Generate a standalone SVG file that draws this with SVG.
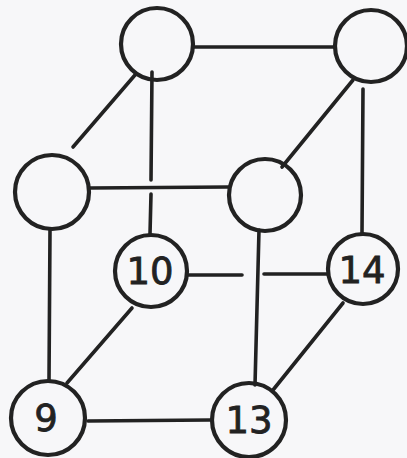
<svg xmlns="http://www.w3.org/2000/svg" width="407" height="458" viewBox="0 0 407 458">
<style>
.n{fill:none;stroke:#222;stroke-width:4.2}
.e{stroke:#222;stroke-width:3.6;stroke-linecap:round;fill:none}
.t{font-family:"DejaVu Sans","Liberation Sans",sans-serif;font-size:37px;fill:#222;stroke:#222;stroke-width:0.8;text-anchor:middle}
</style>
<rect width="407" height="458" fill="#f7f7f9"/>
<g id="connectors">
<line class="e" x1="193" y1="47" x2="335" y2="47"/>
<line class="e" x1="135" y1="75" x2="73" y2="147"/>
<line class="e" x1="152" y1="72" x2="151" y2="180"/>
<line class="e" x1="151" y1="194" x2="150" y2="234"/>
<line class="e" x1="90" y1="188" x2="228" y2="187"/>
<line class="e" x1="353" y1="80" x2="282" y2="167"/>
<line class="e" x1="363" y1="89" x2="362" y2="233"/>
<line class="e" x1="50" y1="230" x2="49" y2="381"/>
<line class="e" x1="259" y1="230" x2="255" y2="385"/>
<line class="e" x1="188" y1="275" x2="242" y2="275"/>
<line class="e" x1="264" y1="274" x2="327" y2="274"/>
<line class="e" x1="132" y1="308" x2="67" y2="383"/>
<line class="e" x1="343" y1="303" x2="273" y2="390"/>
<line class="e" x1="88" y1="421" x2="210" y2="420"/>
</g>
<g id="n-tl"><circle class="n" cx="157" cy="44" r="36"/></g>
<g id="n-tr"><circle class="n" cx="371" cy="46" r="36"/></g>
<g id="n-ml"><circle class="n" cx="52" cy="192" r="37"/></g>
<g id="n-mr"><circle class="n" cx="265" cy="195" r="36"/></g>
<g id="n10"><circle class="n" cx="151" cy="271" r="36"/><text class="t" x="150" y="284">10</text></g>
<g id="n14"><circle class="n" cx="363" cy="269" r="35"/><text class="t" x="362" y="283">14</text></g>
<g id="n9"><circle class="n" cx="48" cy="418" r="37"/><text class="t" x="46" y="431">9</text></g>
<g id="n13"><circle class="n" cx="249" cy="420" r="37"/><text class="t" x="249" y="433">13</text></g>
</svg>
